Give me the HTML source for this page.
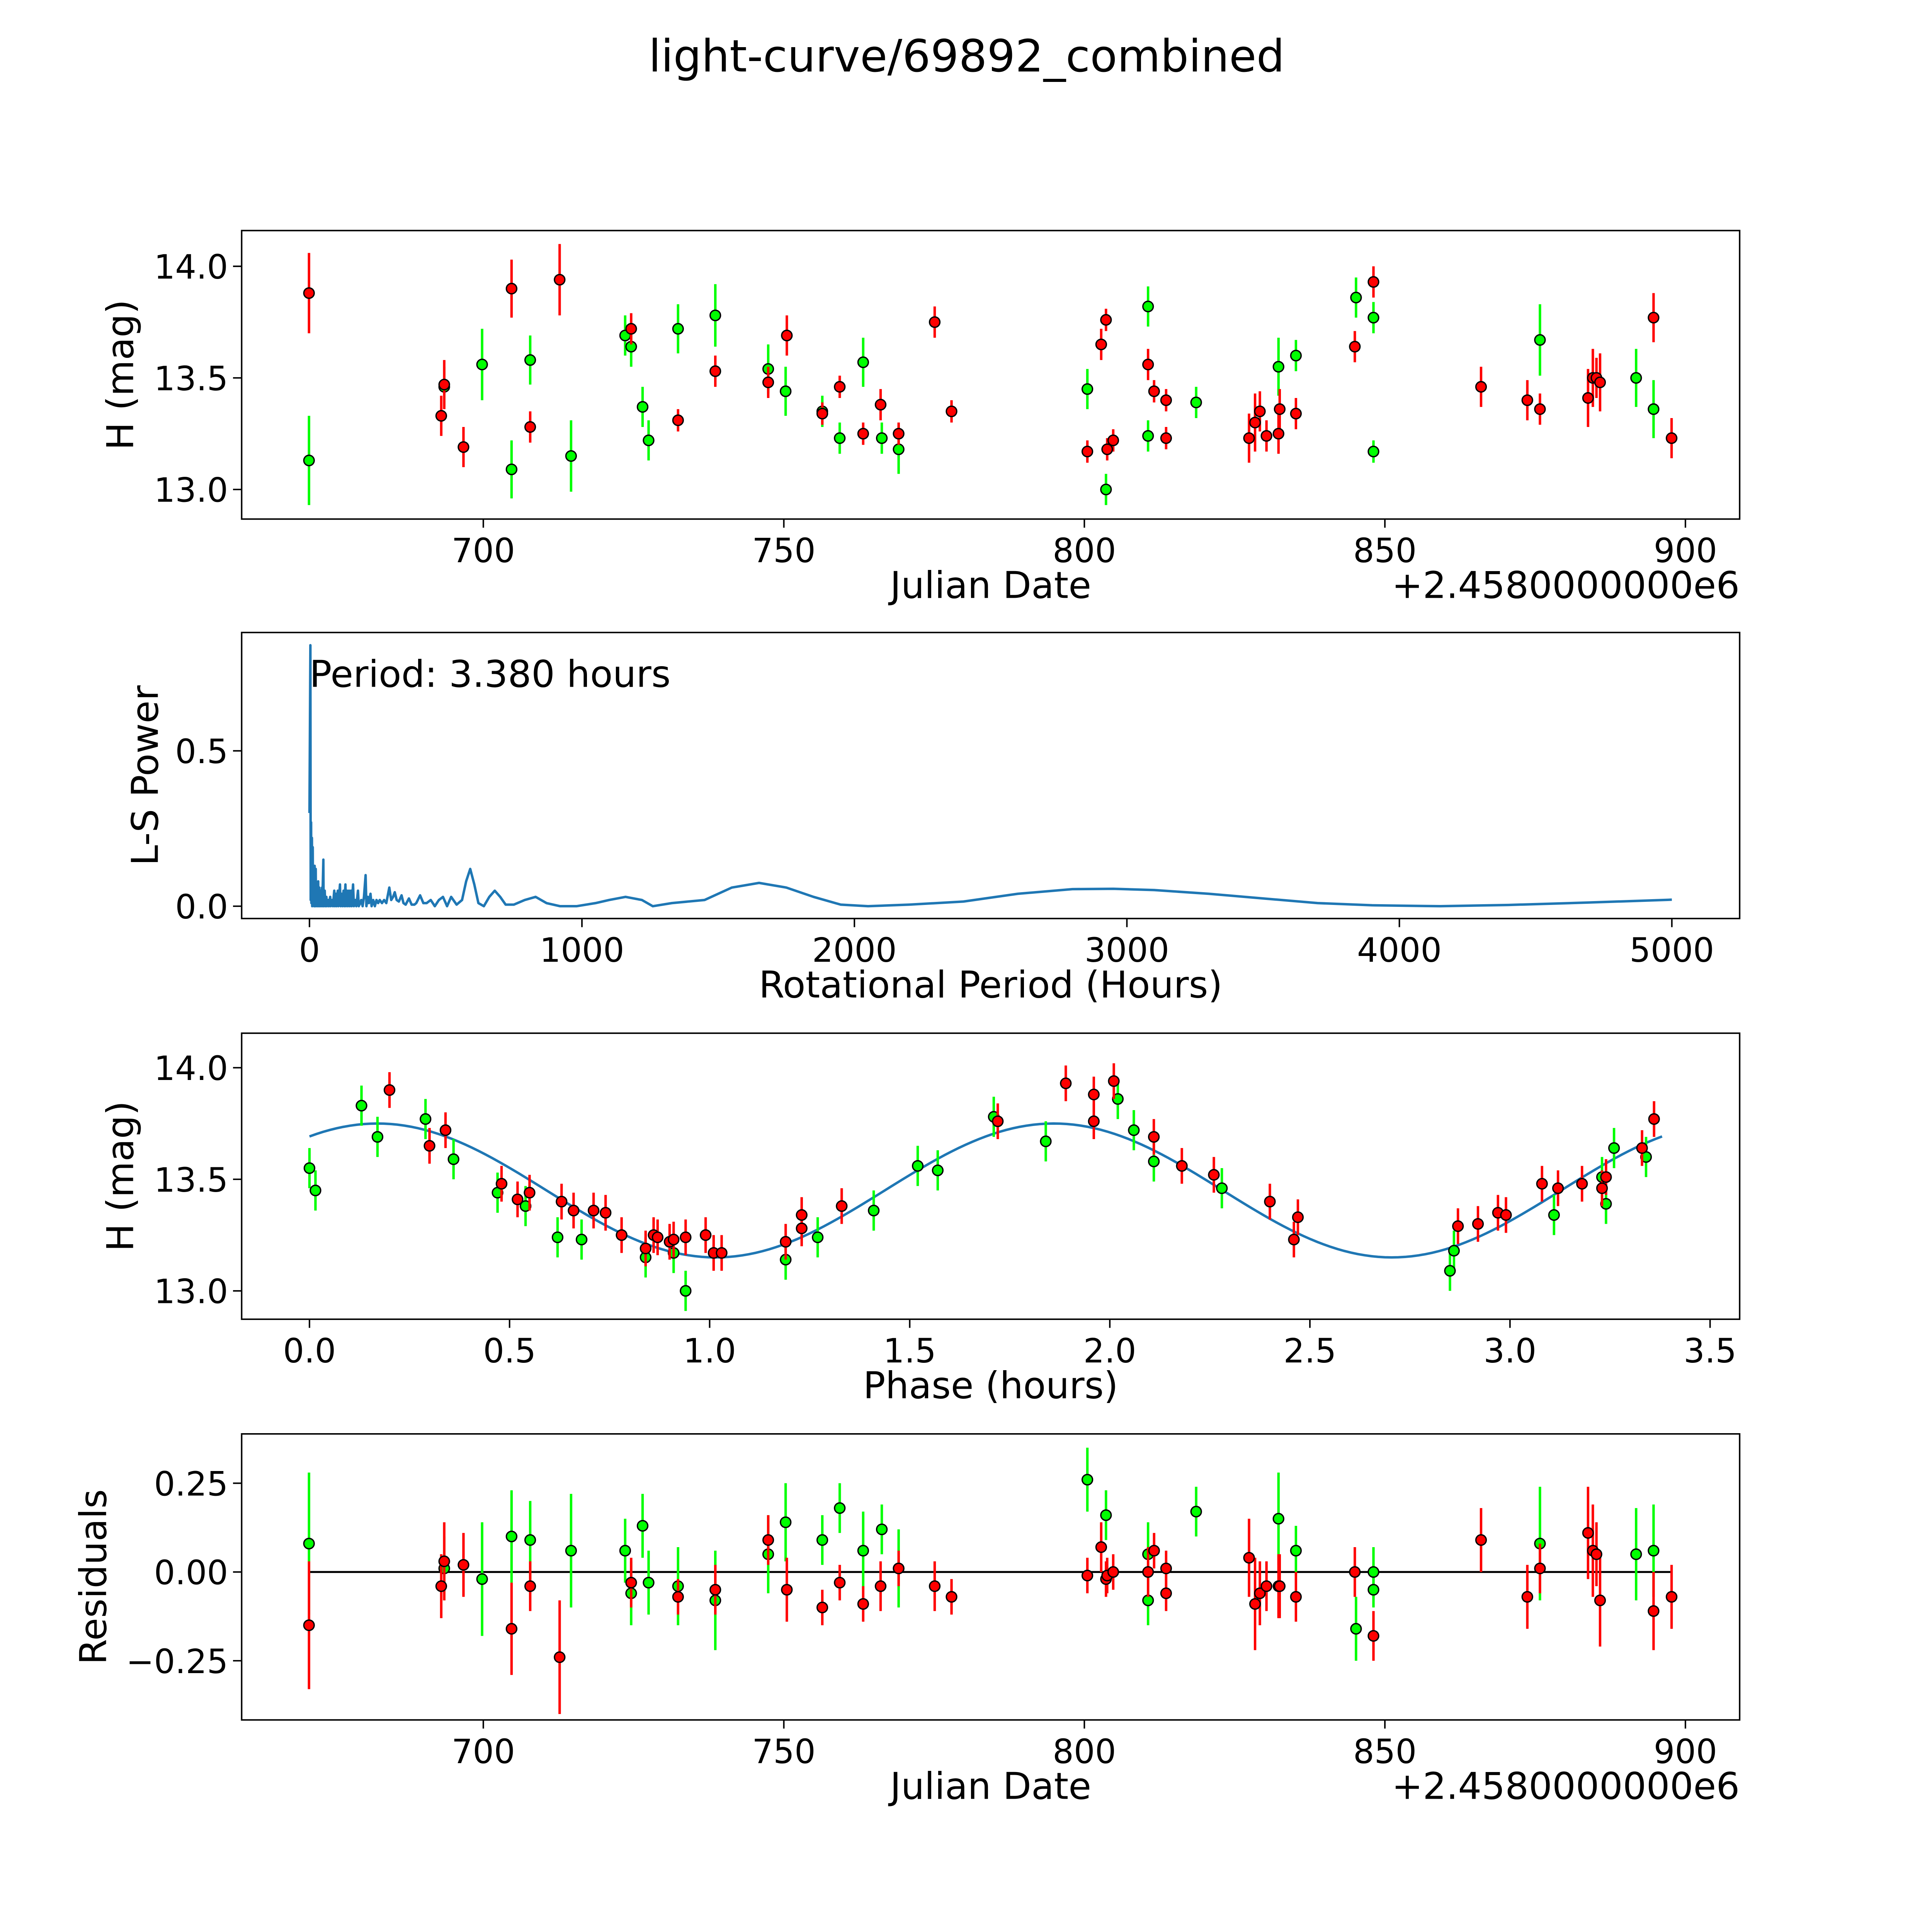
<!DOCTYPE html>
<html><head><meta charset="utf-8"><style>html,body{margin:0;padding:0;background:#fff;width:100%;height:100%;overflow:hidden}svg{display:block;width:100vw;height:100vh}text{font-family:"DejaVu Sans","Liberation Sans",sans-serif}</style></head>
<body>
<svg id="fig" xmlns="http://www.w3.org/2000/svg" viewBox="0 0 1567 1567" preserveAspectRatio="none">
<rect width="1567" height="1567" fill="#fff"/>
<text x="784" y="58" font-size="36" text-anchor="middle">light-curve/69892_combined</text>
</svg>
<script>
// ---------- DATA ----------
const redJD=[671,693,693.5,696.7,704.7,707.8,712.7,724.6,732.4,738.6,747.4,750.5,756.4,759.3,763.2,766.1,769.1,775.1,777.9,800.5,802.8,803.6,803.8,804.8,810.6,811.6,813.6,813.6,827.4,828.4,829.2,830.3,832.3,832.5,835.2,845,848.1,866,873.7,875.8,883.8,884.6,885.2,885.8,894.7,897.7];
const redMag=[13.88,13.33,13.47,13.19,13.90,13.28,13.94,13.72,13.31,13.53,13.48,13.69,13.34,13.46,13.25,13.38,13.25,13.75,13.35,13.17,13.65,13.76,13.18,13.22,13.56,13.44,13.40,13.23,13.23,13.30,13.35,13.24,13.25,13.36,13.34,13.64,13.93,13.46,13.40,13.36,13.41,13.50,13.50,13.48,13.77,13.23];
const redErr=[0.18,0.09,0.11,0.09,0.13,0.07,0.16,0.07,0.05,0.07,0.07,0.09,0.05,0.05,0.05,0.07,0.05,0.07,0.05,0.05,0.07,0.05,0.05,0.05,0.07,0.05,0.05,0.05,0.11,0.13,0.09,0.07,0.09,0.09,0.07,0.07,0.07,0.09,0.09,0.07,0.13,0.13,0.09,0.13,0.11,0.09];
const redRes=[-0.15,-0.04,0.03,0.02,-0.16,-0.04,-0.24,-0.03,-0.07,-0.05,0.09,-0.05,-0.10,-0.03,-0.09,-0.04,0.01,-0.04,-0.07,-0.01,0.07,-0.02,-0.01,0.00,0.00,0.06,0.01,-0.06,0.04,-0.09,-0.06,-0.04,-0.04,-0.04,-0.07,0.00,-0.18,0.09,-0.07,0.01,0.11,0.06,0.05,-0.08,-0.11,-0.07];
const greenJD=[671,693.5,699.8,704.7,707.8,714.6,723.6,724.6,726.5,727.5,732.4,738.6,747.4,750.3,756.4,759.3,763.2,766.3,769.1,800.5,803.6,810.6,810.6,818.6,832.3,835.2,845.2,848.1,848.1,875.8,891.8,894.7];
const greenMag=[13.13,13.46,13.56,13.09,13.58,13.15,13.69,13.64,13.37,13.22,13.72,13.78,13.54,13.44,13.35,13.23,13.57,13.23,13.18,13.45,13.00,13.82,13.24,13.39,13.55,13.60,13.86,13.77,13.17,13.67,13.50,13.36];
const greenErr=[0.20,0.09,0.16,0.13,0.11,0.16,0.09,0.09,0.09,0.09,0.11,0.14,0.11,0.11,0.07,0.07,0.11,0.07,0.11,0.09,0.07,0.09,0.07,0.07,0.13,0.07,0.09,0.07,0.05,0.16,0.13,0.13];
const greenRes=[0.08,0.01,-0.02,0.10,0.09,0.06,0.06,-0.06,0.13,-0.03,-0.04,-0.08,0.05,0.14,0.09,0.18,0.06,0.12,0.01,0.26,0.16,0.05,-0.08,0.17,0.15,0.06,-0.16,0.00,-0.05,0.08,0.05,0.06];
const redPhase=[0.20,0.30,0.34,0.48,0.52,0.55,0.63,0.66,0.71,0.74,0.78,0.84,0.86,0.87,0.90,0.91,0.94,0.99,1.01,1.03,1.19,1.23,1.23,1.33,1.72,1.89,1.96,1.96,2.01,2.11,2.18,2.26,2.40,2.46,2.47,2.87,2.92,2.97,2.99,3.08,3.12,3.18,3.23,3.24,3.33,3.36];
const redPhMag=[13.90,13.65,13.72,13.48,13.41,13.44,13.40,13.36,13.36,13.35,13.25,13.19,13.25,13.24,13.22,13.23,13.24,13.25,13.17,13.17,13.22,13.34,13.28,13.38,13.76,13.93,13.88,13.76,13.94,13.69,13.56,13.52,13.40,13.23,13.33,13.29,13.30,13.35,13.34,13.48,13.46,13.48,13.46,13.51,13.64,13.77];
const greenPhase=[0.00,0.015,0.13,0.17,0.29,0.36,0.47,0.54,0.62,0.68,0.84,0.91,0.94,1.19,1.27,1.41,1.52,1.57,1.71,1.84,2.02,2.06,2.11,2.28,2.85,2.86,3.11,3.23,3.24,3.26,3.34];
const greenPhMag=[13.55,13.45,13.83,13.69,13.77,13.59,13.44,13.38,13.24,13.23,13.15,13.17,13.00,13.14,13.24,13.36,13.56,13.54,13.78,13.67,13.86,13.72,13.58,13.46,13.09,13.18,13.34,13.51,13.39,13.64,13.60];
const lsPeriod=[0,3.38,4.5,6,7,9,10,12,13,16,17,19,20,23,24,28,29,32,33,36,37,41,42,46,47,51,52,56,58,62,64,69,71,76,78,83,86,91,93,97,99,104,106,112,114,118,121,125,128,132,134,138,141,145,148,152,155,160,163,168,172,178,181,186,190,195,200,206,209,214,218,224,228,234,240,246,252,258,266,274,282,293,300,307,313,320,328,338,345,353,365,375,385,392,406,418,430,445,460,475,490,505,520,540,560,575,590,605,620,640,660,680,700,720,750,790,830,870,920,980,1050,1100,1160,1220,1260,1330,1450,1550,1650,1750,1850,1950,2050,2200,2400,2600,2800,2950,3100,3300,3500,3700,3900,4150,4400,4700,5000];
const lsPower=[0.3,0.84,0.02,0.27,0.01,0.22,0,0.19,0.01,0.12,0,0.13,0,0.12,0,0.07,0,0.08,0,0.06,0,0.05,0,0.06,0,0.15,0,0.05,0,0.03,0,0.02,0,0.03,0,0.02,0,0.05,0,0.04,0,0.05,0,0.07,0,0.04,0,0.05,0,0.07,0,0.05,0,0.05,0,0.05,0,0.07,0,0.02,0,0.05,0,0.01,0.02,0,0.03,0.10,0,0.03,0.01,0.04,0,0.02,0,0.02,0.01,0.02,0.01,0.02,0.01,0.06,0.02,0.03,0.045,0.02,0.015,0.035,0.01,0.005,0.025,0.005,0.005,0.01,0.035,0.01,0.01,0.02,0.0,0.02,0.03,0.0,0.03,0.005,0.02,0.08,0.12,0.07,0.01,0.0,0.03,0.05,0.03,0.005,0.005,0.02,0.03,0.01,0.0,0.0,0.01,0.02,0.03,0.02,0.0,0.01,0.02,0.06,0.075,0.06,0.03,0.005,0.0,0.005,0.015,0.04,0.055,0.056,0.052,0.04,0.025,0.01,0.003,0.0,0.004,0.012,0.021];
const jdTicks=[700,750,800,850,900];
const magTicks=[13.0,13.5,14.0];
const magTickLabels=["13.0","13.5","14.0"];
const lsXTicks=[0,1000,2000,3000,4000,5000];
const lsYTicks=[0.0,0.5];
const lsYTickLabels=["0.0","0.5"];
const phXTicks=[0,0.5,1,1.5,2,2.5,3,3.5];
const phXTickLabels=["0.0","0.5","1.0","1.5","2.0","2.5","3.0","3.5"];
const resTicks=[-0.25,0,0.25];
const resTickLabels=["\u22120.25","0.00","0.25"];
const modelMean=13.45, modelAmp=0.30, modelPeak=0.17, modelHalfPeriod=1.69, period=3.38;

// ---------- HELPERS ----------
const svg=document.getElementById('fig');
const NS='http://www.w3.org/2000/svg';
function mk(tag,attrs,parent){const e=document.createElementNS(NS,tag);for(const k in attrs)e.setAttribute(k,attrs[k]);(parent||svg).appendChild(e);return e;}
const L=196,R=1411;
function lin(d0,d1,p0,p1){return v=>p0+(v-d0)*(p1-p0)/(d1-d0);}
const xJD=lin(700,900,392,1367);

function panel(name,top,bottom,xs,ys,xt,xtl,yt,ytl,xlabel,ylabel,ylabelX){
  const g=mk('g',{});
  
  
  xt.forEach((v,i)=>{const x=xs(v);
    const t=mk('line',{x1:x,x2:x,y1:bottom,y2:bottom+7,stroke:'#000','stroke-width':1.2},g);
    
    const tx=mk('text',{x:x,y:bottom+35,'font-size':27,'text-anchor':'middle'},g);tx.textContent=xtl[i];
    });
  yt.forEach((v,i)=>{const y=ys(v);
    const t=mk('line',{x1:L-7,x2:L,y1:y,y2:y,stroke:'#000','stroke-width':1.2},g);
    
    const tx=mk('text',{x:L-11,y:y+10,'font-size':27,'text-anchor':'end'},g);tx.textContent=ytl[i];
    });
  const xl=mk('text',{x:(L+R)/2,y:bottom+64,'font-size':30,'text-anchor':'middle'},g);xl.textContent=xlabel;
  
  const cy=(top+bottom)/2;
  const yl=mk('text',{x:ylabelX,y:cy,'font-size':30,'text-anchor':'middle',transform:`rotate(-90 ${ylabelX} ${cy})`},g);yl.textContent=ylabel;
  
  return g;
}
function frame(g,top,bottom){const f=mk('rect',{x:L,y:top,width:R-L,height:bottom-top,fill:'none',stroke:'#000','stroke-width':1.2},g);
  }
function points(g,xsArr,ysArr,errArr,xs,ys,color,scale){
  xsArr.forEach((xv,i)=>{const x=xs(xv),y=ys(ysArr[i]);
    if(errArr){const e=errArr[i]*scale;
      const b=mk('line',{x1:x,x2:x,y1:y-e,y2:y+e,stroke:color,'stroke-width':2},g);
      }
  });
  xsArr.forEach((xv,i)=>{const c=mk('circle',{cx:xs(xv),cy:ys(ysArr[i]),r:4.2,fill:color,stroke:'#000','stroke-width':1.1},g);
    });
}
function offsetText(g,bottom){const t=mk('text',{x:R,y:bottom+64,'font-size':30,'text-anchor':'end'},g);t.textContent='+2.4580000000e6';
  }

// Panel 1
{const top=187,bottom=421,ys=lin(14,13,216,397);
 const g=panel('light-curve-panel',top,bottom,xJD,ys,jdTicks,jdTicks.map(String),magTicks,magTickLabels,'Julian Date','H (mag)',108);
 points(g,greenJD,greenMag,greenErr,xJD,ys,'#00ff00',181);
 points(g,redJD,redMag,redErr,xJD,ys,'#ff0000',181);
 offsetText(g,bottom);frame(g,top,bottom);}

// Panel 2
{const top=513,bottom=745,xs=lin(0,5000,251,1356),ys=lin(0,0.5,735,609);
 const g=panel('periodogram-panel',top,bottom,xs,ys,lsXTicks,lsXTicks.map(String),lsYTicks,lsYTickLabels,'Rotational Period (Hours)','L-S Power',128);
 const d=lsPeriod.map((p,i)=>(i?'L':'M')+xs(p).toFixed(2)+' '+ys(lsPower[i]).toFixed(2)).join(' ');
 const p=mk('path',{d:d,fill:'none',stroke:'#1f77b4','stroke-width':2,'stroke-linejoin':'round'},g);
 
 const t=mk('text',{x:251,y:557,'font-size':30},g);t.textContent='Period: 3.380 hours';
 
 frame(g,top,bottom);}

// Panel 3
{const top=838,bottom=1070,xs=lin(0,3.5,251,1387),ys=lin(14,13,866,1047);
 const g=panel('phase-folded-panel',top,bottom,xs,ys,phXTicks,phXTickLabels,magTicks,magTickLabels,'Phase (hours)','H (mag)',108);
 let d='';for(let i=0;i<=200;i++){const ph=period*i/200;const m=modelMean+modelAmp*Math.cos(2*Math.PI*(ph-modelPeak)/modelHalfPeriod);d+=(i?'L':'M')+xs(ph).toFixed(2)+' '+ys(m).toFixed(2)+' ';}
 const p=mk('path',{d:d,fill:'none',stroke:'#1f77b4','stroke-width':2},g);
 
 const gE=greenPhase.map(()=>0.09),rE=redPhase.map(()=>0.08);
 points(g,greenPhase,greenPhMag,gE,xs,ys,'#00ff00',181);
 points(g,redPhase,redPhMag,rE,xs,ys,'#ff0000',181);
 frame(g,top,bottom);}

// Panel 4
{const top=1163,bottom=1395,ys=lin(0,0.25,1275,1203);
 const g=panel('residuals-panel',top,bottom,xJD,ys,jdTicks,jdTicks.map(String),resTicks,resTickLabels,'Julian Date','Residuals',86);
 const zl=mk('line',{x1:xJD(671),x2:xJD(897.7),y1:ys(0),y2:ys(0),stroke:'#000','stroke-width':1.6},g);
 
 points(g,greenJD,greenRes,greenErr,xJD,ys,'#00ff00',288);
 points(g,redJD,redRes,redErr,xJD,ys,'#ff0000',288);
 offsetText(g,bottom);frame(g,top,bottom);}
</script>
</body></html>
